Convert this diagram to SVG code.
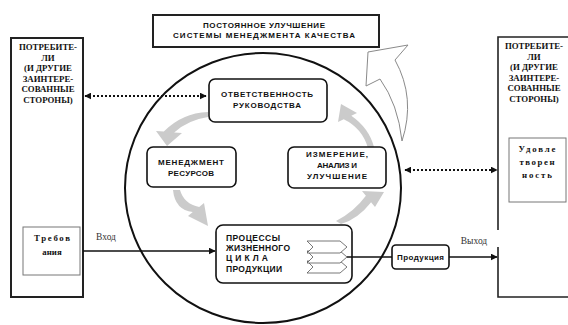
<svg xmlns="http://www.w3.org/2000/svg" width="568" height="325" viewBox="0 0 568 325">
<defs>
<style>
.box{fill:#fff;stroke:#111;stroke-width:1.6}
.ext{fill:#fff;stroke:#222;stroke-width:2}
.inner{fill:#fff;stroke:#777;stroke-width:1}
.st{font-family:"Liberation Sans",Arial,sans-serif;font-weight:bold;font-size:8px;fill:#111;text-anchor:middle}
.sl{font-family:"Liberation Sans",Arial,sans-serif;font-weight:bold;font-size:8.5px;fill:#111}
.sf{font-family:"Liberation Serif","Times New Roman",serif;font-weight:bold;font-size:8.8px;fill:#111;text-anchor:middle}
.sn{font-family:"Liberation Serif","Times New Roman",serif;font-size:9.5px;fill:#333;text-anchor:middle}
.gray{fill:#cbcbcb;stroke:none}
.dot{stroke:#111;stroke-width:2;stroke-dasharray:2,2;fill:none}
.line{stroke:#111;stroke-width:1.6;fill:none}
.chev{fill:#fff;stroke:#555;stroke-width:0.8}
</style>
<marker id="ah" viewBox="0 0 10 10" refX="9" refY="5" markerWidth="7" markerHeight="7" markerUnits="userSpaceOnUse" orient="auto-start-reverse">
<path d="M0,0 L10,5 L0,10 Z" fill="#111"/>
</marker>
</defs>
<rect width="568" height="325" fill="#fff"/>

<g id="cycle-circle">
<ellipse cx="263" cy="188" rx="138" ry="135" fill="none" stroke="#111" stroke-width="2"/>
</g>

<g id="improvement-arrow">
<path d="M368,52 L408,45 L395,60 Q416,98 402,141 Q398,104 380,79 L366,86 Z" fill="#fff" stroke="#8a8a8a" stroke-width="1"/>
</g>

<g id="cycle-arrows">
<path class="gray" d="M208,112 Q182,113 163.8,131.6 L156,131 L167,146 L182,133 L174.2,132.4 Q188,120 208,117 Z"/>
<path class="gray" d="M173,190 Q175,210 192.8,212.1 L188,216 L208,226 L204,203 L199.2,206.9 Q184,204 180,190 Z"/>
<path class="gray" d="M336,221 Q354,212 365.9,195.8 L362,191 L384,192 L375,207 L371.1,202.2 Q358,219 341,224 Z"/>
<path class="gray" d="M368,148 Q362,128 343.7,119.3 L338,122 L341,104 L357,113 L351.3,115.7 Q369,128 374,147 Z"/>
</g>

<g id="top-box">
<rect x="153" y="15" width="226" height="32" fill="#fff" stroke="#222" stroke-width="2"/>
<text class="st" x="264" y="28" font-size="8" textLength="122">ПОСТОЯННОЕ УЛУЧШЕНИЕ</text>
<text class="st" x="264" y="38" font-size="8" textLength="182">СИСТЕМЫ МЕНЕДЖМЕНТА КАЧЕСТВА</text>
</g>

<g id="left-customers">
<rect class="ext" x="11" y="38" width="72" height="259"/>
<text class="sf" x="48" y="50">ПОТРЕБИТЕ-</text>
<text class="sf" x="48" y="60.5">ЛИ</text>
<text class="sf" x="48" y="71">(И ДРУГИЕ</text>
<text class="sf" x="48" y="81.5">ЗАИНТЕРЕ-</text>
<text class="sf" x="48" y="92">СОВАННЫЕ</text>
<text class="sf" x="48" y="102.5">СТОРОНЫ)</text>
</g>

<g id="requirements">
<rect class="inner" x="23" y="227" width="57" height="48"/>
<text class="sf" x="52" y="241" font-size="9.5" textLength="36">Требов</text>
<text class="sf" x="52" y="255" font-size="9.5">ания</text>
</g>

<g id="right-customers">
<path d="M498,230 V37 H570 V297 H498 V247" fill="#fff" stroke="#222" stroke-width="1.6"/>
<text class="sf" x="534" y="49">ПОТРЕБИТЕ-</text>
<text class="sf" x="534" y="59.5">ЛИ</text>
<text class="sf" x="534" y="70">(И ДРУГИЕ</text>
<text class="sf" x="534" y="80.5">ЗАИНТЕРЕ-</text>
<text class="sf" x="534" y="91">СОВАННЫЕ</text>
<text class="sf" x="534" y="101.5">СТОРОНЫ)</text>
</g>

<g id="satisfaction">
<rect class="inner" x="509" y="138" width="57" height="64"/>
<text class="sf" x="537" y="152" font-size="9.5" textLength="37">Удовле</text>
<text class="sf" x="537" y="165" font-size="9.5" textLength="35">творен</text>
<text class="sf" x="537" y="178" font-size="9.5" textLength="30">ность</text>
</g>

<g id="responsibility">
<rect class="box" x="209" y="79" width="118" height="43" rx="6"/>
<text class="st" x="267" y="97" textLength="92">ОТВЕТСТВЕННОСТЬ</text>
<text class="st" x="267" y="108" textLength="68">РУКОВОДСТВА</text>
</g>

<g id="resources">
<rect class="box" x="147" y="147" width="89" height="40" rx="6"/>
<text class="st" x="191" y="165" textLength="66">МЕНЕДЖМЕНТ</text>
<text class="st" x="191" y="176" textLength="46">РЕСУРСОВ</text>
</g>

<g id="measurement">
<rect class="box" x="288" y="147" width="98" height="41" rx="6"/>
<text class="st" x="337" y="157" textLength="62">ИЗМЕРЕНИЕ,</text>
<text class="st" x="337" y="168" textLength="40">АНАЛИЗ И</text>
<text class="st" x="337" y="179" textLength="60">УЛУЧШЕНИЕ</text>
</g>

<g id="life-cycle">
<rect class="box" x="216" y="225" width="136" height="58" rx="7"/>
<text class="sl" x="226" y="241" textLength="54">ПРОЦЕССЫ</text>
<text class="sl" x="226" y="251" textLength="64">ЖИЗНЕННОГО</text>
<text class="sl" x="226" y="261" textLength="42">ЦИКЛА</text>
<text class="sl" x="226" y="272" textLength="56">ПРОДУКЦИИ</text>
<polygon class="chev" points="307,261 340,261 347,267 340,273 307,273 313,267"/>
<polygon class="chev" points="307,251 340,251 347,257 340,263 307,263 313,257"/>
<polygon class="chev" points="307,241 340,241 347,247 340,253 307,253 313,247"/>
</g>

<g id="product">
<rect class="box" x="392" y="245" width="57" height="24" rx="4"/>
<text class="st" x="420.5" y="260" font-size="7.5" textLength="47">Продукция</text>
</g>

<g id="connectors">
<line class="dot" x1="85" y1="96" x2="206" y2="96" marker-start="url(#ah)" marker-end="url(#ah)"/>
<line class="dot" x1="405" y1="170" x2="497" y2="170" marker-start="url(#ah)" marker-end="url(#ah)"/>
<line class="line" x1="83" y1="251" x2="215" y2="251" marker-end="url(#ah)"/>
<line class="line" x1="347" y1="257" x2="392" y2="257"/>
<line class="line" x1="449" y1="257" x2="497" y2="257" marker-end="url(#ah)"/>
<text class="sn" x="106" y="240">Вход</text>
<text class="sn" x="474" y="244">Выход</text>
</g>
</svg>
